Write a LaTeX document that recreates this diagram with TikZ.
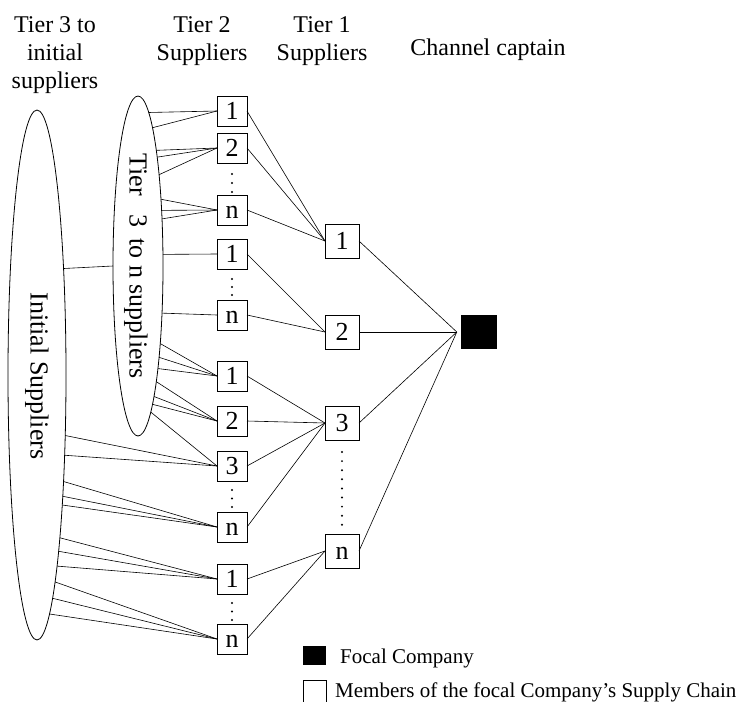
\documentclass[tikz,border=0pt]{standalone}
\usepackage{fontspec}
\setmainfont{Liberation Serif}
\usetikzlibrary{shapes.geometric}
\begin{document}
\begin{tikzpicture}[x=1pt,y=-1pt,
  conn/.style={line width=0.6pt},
  tiertwo/.style={draw, line width=0.8pt, minimum width=30pt, minimum height=30pt,
    inner sep=0pt, outer sep=0pt, font=\fontsize{26}{30}\selectfont,
    text height=17.6pt, text depth=0pt},
  tierone/.style={tiertwo, minimum width=34pt, minimum height=34pt},
  supply/.style={draw, line width=0.8pt, ellipse, inner sep=0pt, outer sep=0pt},
  vlabel/.style={rotate=-90, inner sep=0pt, font=\fontsize{26}{30}\selectfont},
  head/.style={anchor=base, inner sep=0pt, font=\fontsize{24}{28}\selectfont},
  keytext/.style={anchor=base west, inner sep=0pt, font=\fontsize{21}{25}\selectfont},
  dotmark/.style={fill=black}
]
\useasboundingbox (0,0) rectangle (745,702);

% column headings
\node[head] (hdthree) at (55,32) {\begin{tabular}[t]{@{}c@{}}Tier 3 to\\initial\\suppliers\end{tabular}};
\node[head] (hdtwo) at (202,32) {\begin{tabular}[t]{@{}c@{}}Tier 2\\Suppliers\end{tabular}};
\node[head] (hdone) at (322,32) {\begin{tabular}[t]{@{}c@{}}Tier 1\\Suppliers\end{tabular}};
\node[head] (hdcap) at (488,55) {Channel captain};

% supplier pools
\node[supply, minimum width=58pt, minimum height=530pt] (big) at (37,375) {};
\node[supply, minimum width=50pt, minimum height=340pt] (small) at (138,266) {};
\node[vlabel] (bigtext) at (37,376) {Initial Suppliers};
\node[vlabel] (smalltext) at (136,266) {Tier\hspace{12pt} 3\hspace{5pt} to n suppliers};

% tier 2 suppliers
\node[tiertwo] (p1) at (232,111) {1};
\node[tiertwo] (p2) at (232,148) {2};
\node[tiertwo] (p3) at (232,210) {n};
\node[tiertwo] (q1) at (232,254) {1};
\node[tiertwo] (q2) at (232,315) {n};
\node[tiertwo] (r1) at (232,376) {1};
\node[tiertwo] (r2) at (232,421) {2};
\node[tiertwo] (r3) at (232,466) {3};
\node[tiertwo] (r4) at (232,527) {n};
\node[tiertwo] (s1) at (232,579) {1};
\node[tiertwo] (s2) at (232,639) {n};

% tier 1 suppliers
\node[tierone] (b1) at (342,241) {1};
\node[tierone] (b2) at (342,332) {2};
\node[tierone] (b3) at (342,423) {3};
\node[tierone] (b4) at (342,551) {n};

% focal company
\node[fill=black, minimum width=36pt, minimum height=34pt, inner sep=0pt] (focal) at (479,332) {};
\coordinate (hub) at ([xshift=-4pt]focal.west);

% vertical ellipsis dots
\foreach \yy in {174,183,192, 279,287,295, 490,498.5,507, 603,611.5,620}
  \fill[dotmark] (232,\yy) circle (1.1pt);
\foreach \k in {0,...,8}
  \fill[dotmark] (342,{452+9.1*\k}) circle (1.1pt);

% links between the two pools
\pgfmathsetmacro\ang{atan2(109, 29*sqrt(1-(109/265)*(109/265)))}
\draw[conn] (big.\ang) -- (small.west);

% inner pool to tier 2
\foreach \d/\t in {-156/p1,-143/p1,-120/p2,-109/p2,-95/p2,-69/p3,-58/p3,-49/p3,
                   -12/q1,49/q2,81/r1,96/r1,104/r1,121/r2,132/r2,139/r2,147/r3}{
  \pgfmathsetmacro\ang{atan2(-(\d), 25*sqrt(1-(\d/170)*(\d/170)))}
  \draw[conn] (small.\ang) -- (\t.west);
}

% outer pool to tier 2
\foreach \d/\t in {62/r3,81/r3,109/r4,127/r4,139/r4,171/s1,187/s1,201/s1,218/s2,232/s2,247/s2}{
  \pgfmathsetmacro\ang{atan2(-(\d), 29*sqrt(1-(\d/265)*(\d/265)))}
  \draw[conn] (big.\ang) -- (\t.west);
}

% tier 2 to tier 1
\foreach \a/\b in {p1/b1,p2/b1,p3/b1,q1/b2,q2/b2,r1/b3,r2/b3,r3/b3,r4/b3,s1/b4,s2/b4}
  \draw[conn] (\a.east) -- (\b.west);

% tier 1 to focal company
\foreach \a in {b1,b2,b3,b4}
  \draw[conn] (\a.east) -- (hub);

% legend
\node[fill=black, minimum width=23pt, minimum height=19pt, inner sep=0pt] (keyfocal) at (314.5,655.5) {};
\node[draw, line width=0.8pt, minimum width=23pt, minimum height=24pt, inner sep=0pt] (keymember) at (314.5,692) {};
\node[keytext] (keyfocaltext) at (340,663) {Focal Company};
\node[keytext] (keymembertext) at (335,697) {Members of the focal Company's Supply Chain};
\end{tikzpicture}
\end{document}
